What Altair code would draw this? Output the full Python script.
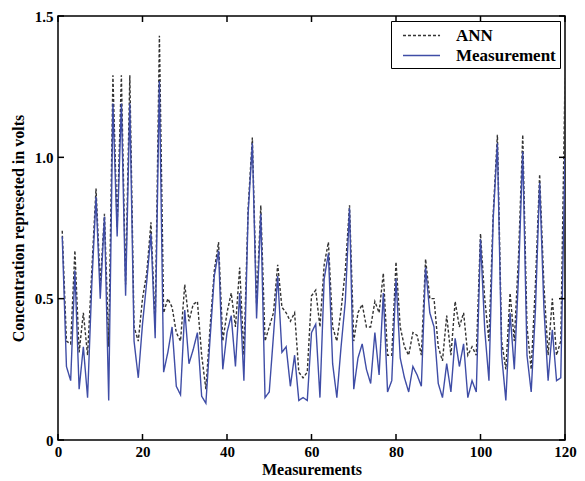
import altair as alt
import pandas as pd

measurements = list(range(1, 121))

measurement = [
    0.72, 0.26, 0.21, 0.60, 0.18, 0.33, 0.15, 0.55, 0.86, 0.50,
    0.79, 0.14, 1.19, 0.72, 1.19, 0.51, 1.19, 0.35, 0.22, 0.41,
    0.56, 0.73, 0.36, 1.27, 0.24, 0.31, 0.40, 0.19, 0.16, 0.46,
    0.27, 0.32, 0.38, 0.155, 0.13, 0.36, 0.58, 0.67, 0.25, 0.38,
    0.44, 0.26, 0.52, 0.21, 0.80, 1.05, 0.43, 0.80, 0.15, 0.17,
    0.37, 0.58, 0.31, 0.33, 0.19, 0.30, 0.14, 0.15, 0.14, 0.38,
    0.41, 0.15, 0.57, 0.66, 0.27, 0.15, 0.33, 0.49, 0.82, 0.18,
    0.29, 0.34, 0.25, 0.20, 0.38, 0.23, 0.52, 0.17, 0.21, 0.57,
    0.29, 0.22, 0.17, 0.26, 0.23, 0.19, 0.61, 0.45, 0.40, 0.20,
    0.15, 0.27, 0.17, 0.36, 0.26, 0.34, 0.15, 0.21, 0.17, 0.71,
    0.39, 0.21, 0.78, 1.05, 0.30, 0.14, 0.45, 0.25, 0.58, 1.02,
    0.30, 0.17, 0.46, 0.91, 0.47, 0.21, 0.39, 0.21, 0.22, 1.00,
]

ann = [
    0.74, 0.35, 0.34, 0.67, 0.31, 0.45, 0.30, 0.60, 0.89, 0.55,
    0.80, 0.33, 1.29, 0.75, 1.29, 0.55, 1.29, 0.40, 0.35, 0.50,
    0.59, 0.77, 0.40, 1.43, 0.45, 0.50, 0.47, 0.38, 0.35, 0.55,
    0.42, 0.48, 0.49, 0.30, 0.18, 0.40, 0.60, 0.70, 0.35, 0.45,
    0.52, 0.40, 0.61, 0.30, 0.82, 1.07, 0.48, 0.83, 0.35, 0.40,
    0.45, 0.62, 0.47, 0.45, 0.42, 0.45, 0.24, 0.22, 0.24, 0.51,
    0.53, 0.40, 0.62, 0.70, 0.40, 0.35, 0.46, 0.60, 0.83, 0.35,
    0.45, 0.48, 0.40, 0.40, 0.49, 0.45, 0.59, 0.30, 0.30, 0.63,
    0.40, 0.33, 0.30, 0.38, 0.37, 0.30, 0.64, 0.50, 0.50, 0.33,
    0.28, 0.44, 0.30, 0.49, 0.40, 0.45, 0.30, 0.33, 0.30, 0.73,
    0.50, 0.35, 0.80, 1.08, 0.35, 0.25, 0.52, 0.35, 0.65, 1.08,
    0.40, 0.25, 0.55, 0.94, 0.55, 0.30, 0.50, 0.30, 0.35, 1.28,
]

series_names = ["ANN", "Measurement"]
series_colors = ["#333333", "#3f4da6"]
x_ticks = [0, 20, 40, 60, 80, 100, 120]
y_ticks = [0, 0.5, 1.0, 1.5]

rows = []
for i, xv in enumerate(measurements):
    rows.append({"x": xv, "v": ann[i], "series": "ANN"})
    rows.append({"x": xv, "v": measurement[i], "series": "Measurement"})
df = pd.DataFrame(rows)

W = 507
H = 424
FONT = "Liberation Serif"

xscale = alt.Scale(domain=[0, 120], nice=False)
yscale = alt.Scale(domain=[0, 1.5], nice=False)

lines = alt.Chart(df).mark_line(strokeWidth=1.4, clip=True).encode(
    x=alt.X("x:Q", scale=xscale,
            axis=alt.Axis(values=x_ticks, title="Measurements", grid=False,
                          ticks=False, domain=False, labelPadding=4,
                          labelFontSize=15, labelFontWeight="bold",
                          titleFontSize=16, titleFontWeight="bold",
                          titlePadding=2, labelFlush=False)),
    y=alt.Y("v:Q", scale=yscale,
            axis=alt.Axis(values=y_ticks, title="Concentration represeted in volts",
                          grid=False, ticks=False, domain=False,
                          labelExpr="datum.value == 0 ? '0' : format(datum.value, '.1f')",
                          labelPadding=5, labelFontSize=15, labelFontWeight="bold",
                          titleFontSize=16, titleFontWeight="bold",
                          titlePadding=8, labelFlush=False)),
    color=alt.Color("series:N", scale=alt.Scale(domain=series_names, range=series_colors),
                    legend=alt.Legend(title=None)),
    strokeDash=alt.StrokeDash("series:N",
                              scale=alt.Scale(domain=series_names, range=[[3, 2], [1, 0]]),
                              legend=alt.Legend(title=None)),
    order=alt.Order("x:Q"),
)

xt = pd.DataFrame({"t": x_ticks})
yt = pd.DataFrame({"t": y_ticks})

xtick_bottom = alt.Chart(xt).mark_rule(color="black", strokeWidth=1.5).encode(
    x=alt.X("t:Q", scale=xscale), y=alt.value(H), y2=alt.value(H - 6))
xtick_top = alt.Chart(xt).mark_rule(color="black", strokeWidth=1.5).encode(
    x=alt.X("t:Q", scale=xscale), y=alt.value(0), y2=alt.value(6))
ytick_left = alt.Chart(yt).mark_rule(color="black", strokeWidth=1.5).encode(
    y=alt.Y("t:Q", scale=yscale), x=alt.value(0), x2=alt.value(6))
ytick_right = alt.Chart(yt).mark_rule(color="black", strokeWidth=1.5).encode(
    y=alt.Y("t:Q", scale=yscale), x=alt.value(W), x2=alt.value(W - 6))

chart = alt.layer(lines, xtick_bottom, xtick_top, ytick_left, ytick_right).properties(
    width=W, height=H,
    autosize=alt.AutoSizeParams(type="none"),
    padding={"left": 50, "top": 8, "right": 12, "bottom": 40},
).configure_view(
    stroke="black", strokeWidth=1.5
).configure_axis(
    labelFont=FONT, titleFont=FONT, labelColor="black", titleColor="black"
).configure_legend(
    orient="top-right", offset=5,
    symbolType="M-1.9,0H1.9", symbolSize=380, symbolStrokeWidth=1.4,
    labelFontSize=17, labelFontWeight="bold", labelFont=FONT, labelColor="black",
    strokeColor="black", fillColor="white", padding=4, rowPadding=1,
    labelOffset=24, symbolOffset=16,
)

chart.save("out.html", embed_options={"renderer": "svg", "actions": False})
